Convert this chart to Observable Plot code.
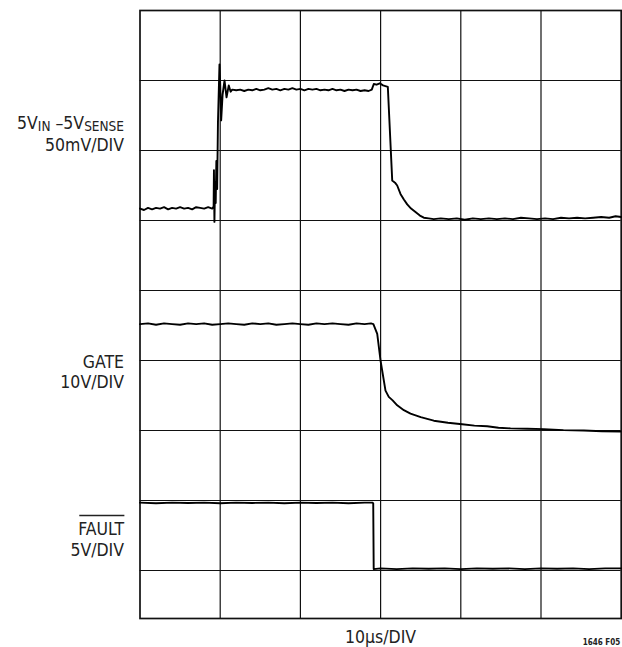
<!DOCTYPE html>
<html><head><meta charset="utf-8">
<script src="https://cdn.jsdelivr.net/npm/d3@7"></script>
<script src="https://cdn.jsdelivr.net/npm/@observablehq/plot@0.6"></script>
<style>
html,body{margin:0;padding:0;background:#fff;}
#chart{width:622px;height:647px;overflow:hidden;}
</style></head><body><div id="chart"></div>
<script>
// ---- data (time in µs, trace values in screen divisions) ----
const timeGridUs = [10, 20, 30, 40, 50];
const divGrid = [0, 1, 2, 3, 4, 5, 6, 7];
const channelNames = ["5V_IN –5V_SENSE", "GATE", "FAULT"];
const channelScales = ["50mV/DIV", "10V/DIV", "5V/DIV"];
const timeBase = "10µs/DIV";
const figureTag = "1646 F05";

const senseTrace = [
  [0,5.17],[0.5,5.15],[1,5.18],[1.5,5.16],[2,5.18],[2.5,5.17],[3,5.19],[3.5,5.16],[4,5.18],[4.5,5.17],
  [5,5.19],[5.5,5.17],[6,5.18],[6.5,5.16],[7,5.19],[7.5,5.18],[8,5.17],[8.5,5.19],[9.0,5.17],[9.18,5.20],
  [9.22,5.72],[9.28,4.98],[9.36,5.55],[9.44,5.25],[9.52,5.85],[9.62,5.45],[9.72,6.40],[9.91,7.23],[10.0,6.95],
  [10.12,6.43],[10.3,6.80],[10.54,7.00],[10.79,6.76],[11.07,6.93],[11.3,6.84],[11.5,6.87],
  [12,6.86],[12.5,6.87],[13,6.85],[13.5,6.87],[14,6.86],[14.5,6.88],[15,6.86],[15.5,6.87],[16,6.89],[16.5,6.87],
  [17,6.88],[17.5,6.86],[18,6.88],[18.5,6.87],[19,6.89],[19.5,6.87],[20,6.88],[20.5,6.86],[21,6.88],[21.5,6.87],
  [22,6.88],[22.5,6.86],[23,6.87],[23.5,6.86],[24,6.88],[24.5,6.86],[25,6.87],[25.5,6.85],[26,6.87],[26.5,6.86],
  [27,6.87],[27.5,6.85],[28,6.86],[28.5,6.85],[28.9,6.87],[29.15,6.95],[29.5,6.94],[29.9,6.96],[30.3,6.93],
  [30.6,6.92],[30.9,6.91],[31.45,5.57],[31.8,5.54],[32.07,5.50],[32.48,5.38],[32.9,5.30],[33.32,5.23],
  [33.8,5.17],[34.35,5.12],[34.9,5.07],[35.39,5.04],[36,5.03],[36.63,5.02],
  [37.5,5.03],[38.5,5.02],[39.5,5.03],[40.5,5.01],[41.5,5.03],[42.5,5.02],[43.5,5.03],[44.5,5.02],[45.5,5.03],
  [46.5,5.02],[47.5,5.04],[48.5,5.03],[49.5,5.02],[50.5,5.03],[51.5,5.02],[52.5,5.04],[53.5,5.03],[54.5,5.04],
  [55.5,5.03],[56.5,5.04],[57.5,5.05],[58.5,5.04],[59.3,5.06],[60,5.05]
];

const gateTrace = [
  [0,3.52],[1,3.53],[2,3.51],[3,3.53],[4,3.52],[5,3.51],[6,3.53],[7,3.52],[8,3.53],[9,3.51],[10,3.52],
  [11,3.53],[12,3.52],[13,3.51],[14,3.53],[15,3.52],[16,3.53],[17,3.51],[18,3.52],[19,3.53],[20,3.52],
  [21,3.51],[22,3.53],[23,3.52],[24,3.53],[25,3.52],[26,3.51],[27,3.53],[28,3.52],[28.8,3.53],[29.1,3.52],
  [29.58,3.38],[29.99,3.00],[30.61,2.57],[31.02,2.48],[31.5,2.43],[32.07,2.36],[32.9,2.29],[33.73,2.24],
  [35,2.19],[36.63,2.14],[38.4,2.11],[40.17,2.09],[41.7,2.07],[43.29,2.06],[44.7,2.04],[46.2,2.03],
  [48.3,2.025],[50.35,2.02],[52.8,2.005],[55.34,2.00],[57.6,1.99],[59.91,1.985]
];

const faultTrace = [
  [0,0.97],[2,0.96],[4,0.97],[6,0.965],[8,0.97],[10,0.96],[12,0.97],[14,0.965],[16,0.97],[18,0.96],
  [20,0.97],[22,0.965],[24,0.97],[26,0.96],[28,0.97],[28.95,0.97],[29.08,0.96],[29.14,0.02],
  [30,0.03],[32,0.02],[34,0.03],[36,0.025],[38,0.03],[40,0.02],[42,0.03],[44,0.025],[46,0.03],
  [48,0.02],[50,0.03],[52,0.025],[54,0.03],[56,0.02],[58,0.03],[60,0.03]
];

// ---- chart ----
const FONT = '"DejaVu Sans Condensed","Liberation Sans Narrow","Arial Narrow",sans-serif';
const rows = d => d.map(([t, v]) => ({t, v}));
const nameBaseline = [6.314, 2.893, 0.507];
const scaleBaseline = [5.993, 2.614, 0.214];
const labelRows = channelNames.map((name, i) => ({text: name, y: nameBaseline[i]}))
  .concat(channelScales.map((s, i) => ({text: s, y: scaleBaseline[i]})));

const traceStyle = {x: "t", y: "v", stroke: "#000", strokeWidth: 1.9, strokeLinejoin: "round"};

const chart = Plot.plot({
  width: 622, height: 647,
  marginLeft: 139.5, marginRight: 1.3, marginTop: 10, marginBottom: 29,
  x: {domain: [0, 60], axis: null},
  y: {domain: [-48 / 70, 8], axis: null},
  style: {fontFamily: FONT, background: "#fff", overflow: "visible", color: "#222"},
  marks: [
    Plot.ruleX(timeGridUs, {stroke: "#111", strokeWidth: 1.2}),
    Plot.ruleY(divGrid, {stroke: "#111", strokeWidth: 1.2}),
    Plot.frame({stroke: "#111", strokeWidth: 1.7}),
    Plot.line(rows(senseTrace), traceStyle),
    Plot.line(rows(gateTrace), traceStyle),
    Plot.line(rows(faultTrace), traceStyle),
    Plot.text(labelRows, {y: "y", text: "text", frameAnchor: "left", dx: -16, textAnchor: "end",
      lineAnchor: "bottom", fontSize: 17.5, fill: "#222"}),
    Plot.text([timeBase], {text: d => d, frameAnchor: "bottom", dx: 0, dy: 24.5, lineAnchor: "bottom",
      fontSize: 17.5, fill: "#222"}),
    Plot.text([figureTag], {text: d => d, frameAnchor: "bottom-right", dx: -1, dy: 26.5, textAnchor: "end",
      lineAnchor: "bottom", fontSize: 8, fontWeight: "bold", fill: "#222"})
  ]
});
document.getElementById("chart").append(chart);

// rich text: subscripts (marked with _) and the FAULT overline
d3.select(chart).selectAll("text").each(function () {
  const s = this.textContent;
  if (s.includes("_")) {
    const parts = s.split(/_([A-Z]+)/);
    const el = d3.select(this);
    el.text(null);
    let shifted = false;
    parts.forEach((p, i) => {
      if (!p) return;
      const sub = i % 2 === 1;
      const ts = el.append("tspan").text(p);
      if (sub) { ts.attr("dy", 2.5).attr("font-size", 13.5); shifted = true; }
      else if (shifted) { ts.attr("dy", -2.5); shifted = false; }
    });
  } else if (s === channelNames[2]) {
    const b = this.getBBox();
    const t = this.getAttribute("transform");
    const line = d3.select(this.parentNode).append("line")
      .attr("x1", b.x + 1).attr("x2", b.x + b.width)
      .attr("y1", b.y - 3.5).attr("y2", b.y - 3.5)
      .attr("stroke", "#222").attr("stroke-width", 1.3);
    if (t) line.attr("transform", t);
  }
});
</script></body></html>
